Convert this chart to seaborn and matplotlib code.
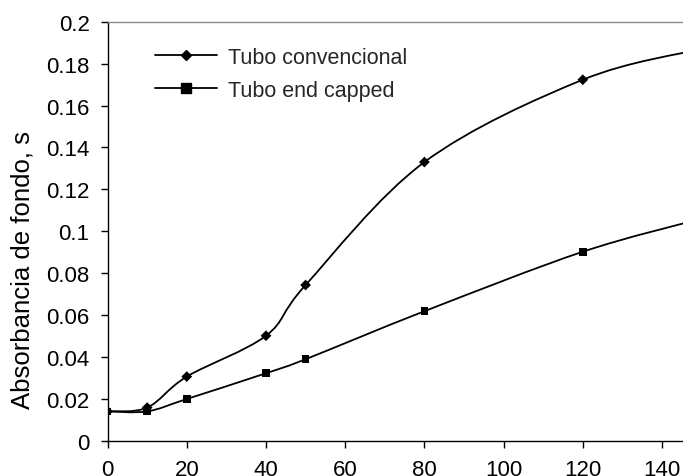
"""
Absorbancia de fondo vs tiempo: tubo convencional vs end capped
"""

import numpy as np
import matplotlib
matplotlib.use('Agg')
import matplotlib.pyplot as plt
from matplotlib.path import Path
from matplotlib.patches import PathPatch
from matplotlib.lines import Line2D
import seaborn as sns
import pandas as pd

# data (last point sits just past the visible edge)
x_vals = [0, 10, 20, 40, 50, 80, 120, 150]
conv_vals = [0.014, 0.0158, 0.0306, 0.0501, 0.0743, 0.133, 0.1723, 0.187]
capped_vals = [0.014, 0.014, 0.0199, 0.0322, 0.0389, 0.0618, 0.0902, 0.106]
series_names = ['Tubo convencional', 'Tubo end capped']

x_ticks = [0, 20, 40, 60, 80, 100, 120, 140]
y_ticks = [0, 0.02, 0.04, 0.06, 0.08, 0.1, 0.12, 0.14, 0.16, 0.18, 0.2]
y_tick_labels = ['0', '0.02', '0.04', '0.06', '0.08', '0.1', '0.12', '0.14', '0.16', '0.18', '0.2']


def smooth_path(xs, ys):
    """Excel-like smoothed line: Catmull-Rom segments as cubic Beziers."""
    pts = np.column_stack([xs, ys]).astype(float)
    ext = np.vstack([pts[0], pts, pts[-1]])
    verts = [pts[0]]
    codes = [Path.MOVETO]
    for i in range(len(pts) - 1):
        p0, p1, p2, p3 = ext[i], ext[i + 1], ext[i + 2], ext[i + 3]
        verts += [p1 + (p2 - p0) / 6, p2 - (p3 - p1) / 6, p2]
        codes += [Path.CURVE4] * 3
    return Path(verts, codes)


sns.set_theme(style='ticks')
plt.rcParams['font.family'] = ['Liberation Sans', 'DejaVu Sans']

df = pd.DataFrame({
    'x': x_vals * 2,
    'y': conv_vals + capped_vals,
    'serie': [series_names[0]] * len(x_vals) + [series_names[1]] * len(x_vals),
})

fig = plt.figure(figsize=(6.83, 4.77), dpi=100)
ax = fig.add_axes([0.1575, 0.074, 0.8697, 0.8784])

# smoothed curves
for vals in [conv_vals, capped_vals]:
    ax.add_patch(PathPatch(smooth_path(x_vals, vals), facecolor='none',
                           edgecolor='black', lw=1.3, zorder=2))

# markers
sns.scatterplot(data=df, x='x', y='y', hue='serie', style='serie',
                markers={series_names[0]: 'D', series_names[1]: 's'},
                palette={series_names[0]: 'black', series_names[1]: 'black'},
                s=40, linewidth=0, legend=False, ax=ax, zorder=3)
# diamonds a bit smaller than squares
for coll, sz in zip(ax.collections, [30, 65]):
    coll.set_sizes([sz])

ax.set_xlim(0, 150)
ax.set_ylim(0, 0.2)
ax.set_xticks(x_ticks)
ax.set_xticklabels([str(t) for t in x_ticks])
ax.set_yticks(y_ticks)
ax.set_yticklabels(y_tick_labels)
ax.tick_params(axis='both', direction='out', length=5, width=1, color='black',
               labelsize=16, labelcolor='black')
ax.tick_params(axis='x', pad=8.5)
ax.tick_params(axis='y', pad=8)

ax.set_xlabel('')
ax.set_ylabel('Absorbancia de fondo, s', fontsize=18.5, color='black',
              ha='center', va='center')
ax.yaxis.set_label_coords(-0.143, 0.41)

for side in ['left', 'bottom']:
    ax.spines[side].set_color('black')
    ax.spines[side].set_linewidth(1)
ax.spines['top'].set_visible(True)
ax.spines['top'].set_color('#8c8c8c')
ax.spines['top'].set_linewidth(1)
ax.spines['right'].set_visible(False)

handles = [
    Line2D([], [], color='black', lw=1.3, marker='D', ms=5),
    Line2D([], [], color='black', lw=1.3, marker='s', ms=7),
]
fig.legend(handles, series_names, loc='upper left',
           bbox_to_anchor=(155 / 683, 1 - 48 / 477), bbox_transform=fig.transFigure,
           frameon=False, fontsize=15.5, handlelength=2.9, handletextpad=0.5,
           labelspacing=0.55, borderpad=0, borderaxespad=0)

plt.savefig('out.png', dpi=100)
plt.close()
